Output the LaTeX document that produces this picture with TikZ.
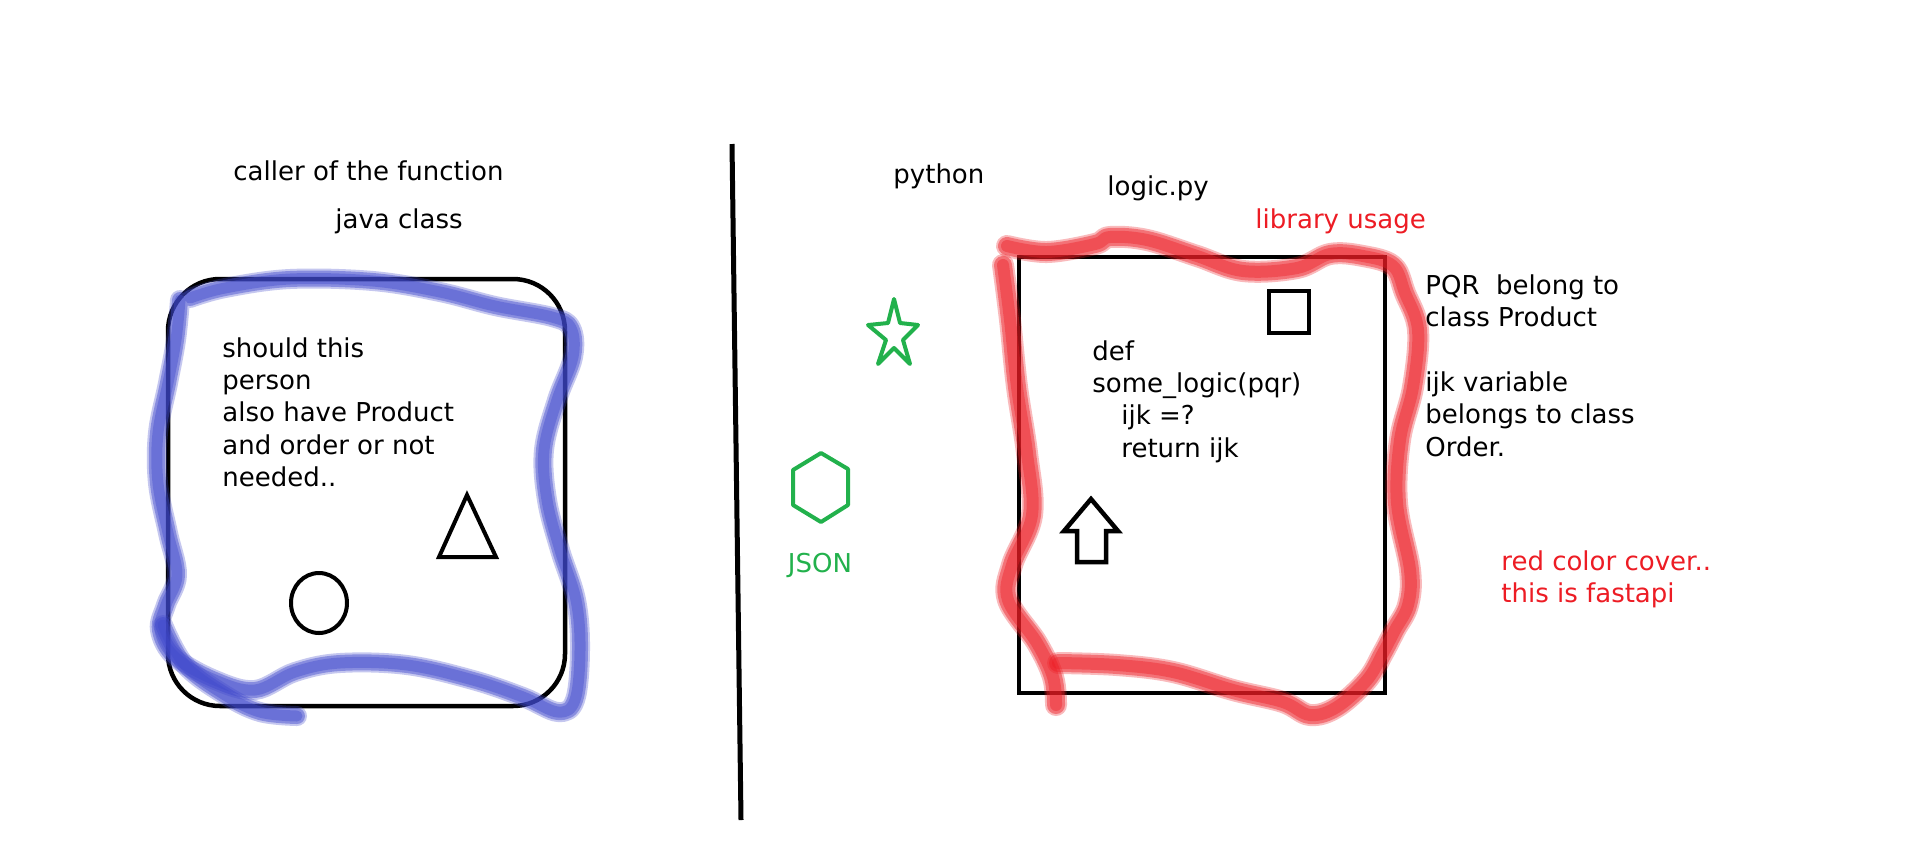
\documentclass[tikz,border=0pt]{standalone}
\usepackage{fontspec}
\setmainfont{DejaVu Sans}
\definecolor{penred}{RGB}{237,28,36}
\definecolor{pengreen}{RGB}{34,177,76}
\definecolor{penblue}{RGB}{63,72,204}

\begin{document}
\begin{tikzpicture}[x=0.5pt,y=-0.5pt,
  every node/.style={inner sep=0pt, font=\fontsize{13}{16.2}\selectfont},
  plain/.style={anchor=base west},
  note/.style={anchor=north west, align=left},
  pen/.style={line width=2pt, line join=miter},
  brush/.style={line cap=round, line join=round}]

\fill[white] (0,0) rectangle (1914,847);

% java side
\node[plain] (caller) at (233,180) {caller of the function};
\node[plain] (java) at (335,228) {java class};
\draw[line width=2.25pt, rounded corners=26pt] (168,279) rectangle (565,706);
\node[note] (question) at (222,337) {should this\\person\\also have Product\\and order or not\\needed..};
\draw[pen] (467,495) -- (496,557) -- (439,557) -- cycle;
\draw[pen] (319,603) ellipse [x radius=14pt, y radius=15pt];

% blue marker round the java box
\foreach \w/\o in {10/.3,8/.45,5.5/.4} {
  \draw[brush, penblue, line width=\w pt, opacity=\o] plot[smooth, tension=.6] coordinates {
    (180,300) (176,340) (168,383) (158,433) (158,483) (168,533) (177,575) (166,605)
    (160,630) (175,657) (215,680) (255,690) (295,672) (340,663) (407,665) (473,680)
    (523,697) (558,712) (575,700) (580,650) (576,600) (560,550) (547,500) (544,450)
    (557,400) (573,357) (571,328) (552,317) (495,306) (440,292) (373,281) (290,279)
    (225,288) (190,298)};
  \draw[brush, penblue, line width=\w pt, opacity=\o] plot[smooth, tension=.6] coordinates {
    (163,625) (185,665) (225,695) (260,712) (297,716)};
}

% divider
\draw[line width=2.5pt] (732,144) -- (741,820);

% python side
\node[plain] (python) at (893,183) {python};
\node[plain] (logic) at (1107,195) {logic.py};
\node[plain, text=penred] (usage) at (1255,228) {library usage};

\draw[pen, pengreen, line join=round] (894,299) -- (900,323) -- (918,325) -- (903,340) -- (910,364)
  -- (894,348) -- (878,364) -- (886,340) -- (868,325) -- (888,323) -- cycle;
\draw[pen, pengreen, line join=round] (821,453) -- (848,469) -- (848,505) -- (821,522)
  -- (793,505) -- (793,470) -- cycle;
\node[anchor=base, text=pengreen] (json) at (820,572) {JSON};

\draw[line width=2.35pt] (1019,257) rectangle (1385,693);
\draw[pen] (1269,291) rectangle (1309,333);
\node[note] (code) at (1092,340) {def\\some\_logic(pqr)\\\hspace*{14.5pt}ijk =?\\\hspace*{14.5pt}return ijk};
\draw[line width=2.25pt] (1091,499) -- (1118,531) -- (1106,531) -- (1106,562) -- (1077,562)
  -- (1077,531) -- (1064,531) -- cycle;

% red marker round logic.py
\foreach \w/\o in {11/.3,9/.45,6/.4} {
  \draw[brush, penred, line width=\w pt, opacity=\o] plot[smooth, tension=.6] coordinates {
    (1007,246) (1047,252) (1095,244) (1110,237) (1147,240) (1197,256) (1243,271) (1297,268)
    (1330,254) (1363,256) (1393,266) (1405,293) (1418,330) (1413,387) (1400,440) (1397,503)
    (1410,570) (1408,605) (1395,630) (1383,653) (1367,680) (1337,707) (1310,715) (1283,702)
    (1233,690) (1173,672) (1117,665) (1058,663)};
  \draw[brush, penred, line width=\w pt, opacity=\o] plot[smooth, tension=.6] coordinates {
    (1003,265) (1010,320) (1017,387) (1027,453) (1032,515) (1012,565) (1008,600)
    (1037,643) (1053,677) (1056,705)};
}

\node[note] (classes) at (1425,274) {PQR\ \ belong to\\class Product\\[16.2pt]ijk variable\\belongs to class\\Order.};
\node[note, text=penred] (fastapi) at (1501,550) {red color cover..\\this is fastapi};

\end{tikzpicture}
\end{document}
